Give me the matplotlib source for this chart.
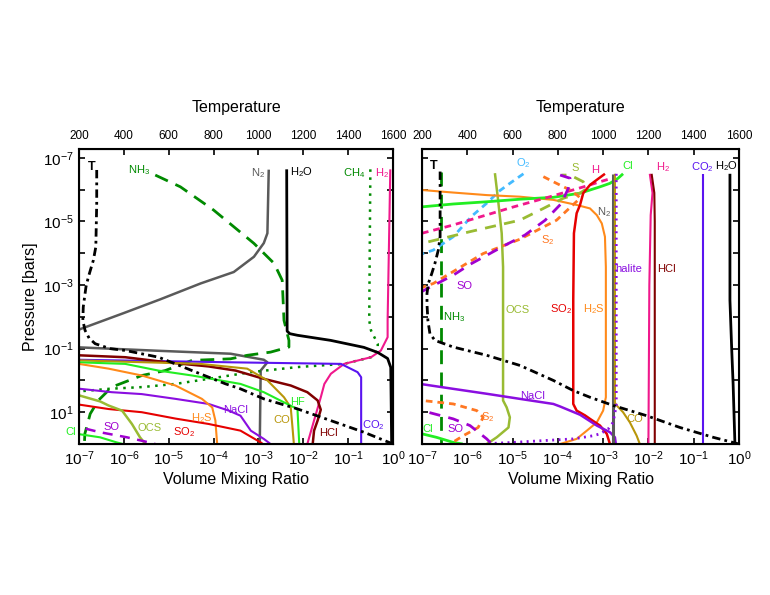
import numpy as np
import matplotlib
matplotlib.use('Agg')
import matplotlib.pyplot as plt
from matplotlib.ticker import NullLocator

plt.rcParams['font.family'] = ['Liberation Sans', 'DejaVu Sans']
plt.rcParams['mathtext.default'] = 'regular'

# ---- data: (log10 VMR, log10 p[bar]) pairs ----
# left panel
L_H2O = ([-2.37, -2.36, -2.30, -2.13, -1.39, -0.65, -0.34, -0.12, -0.05, -0.03],
         [-6.64, -1.55, -1.47, -1.42, -1.26, -1.04, -0.88, -0.69, -0.41, 2.0])
L_N2 = ([-2.77, -2.80, -2.88, -3.10, -3.55, -4.29, -5.19, -6.0, -7.0, -9.0, -7.0, -5.19, -3.62, -2.88, -2.80, -2.95, -2.97],
        [-6.63, -4.63, -4.32, -3.89, -3.41, -3.05, -2.55, -2.12, -1.6, -1.35, -1.04, -0.93, -0.84, -0.65, -0.57, -0.31, 2.0])
L_NH3 = ([-5.30, -4.74, -4.0, -3.10, -2.65, -2.47, -2.43, -2.32, -2.32, -2.73, -3.25, -3.62, -4.48, -5.08, -5.60, -6.27, -6.57, -6.75, -6.87, -6.88],
         [-6.46, -6.09, -5.36, -4.31, -3.68, -3.15, -1.89, -1.26, -1.05, -0.89, -0.79, -0.68, -0.63, -0.31, -0.155, 0.21, 0.63, 1.05, 1.68, 2.0])
L_CH4 = ([-0.505, -0.53, -0.49, -0.34, -0.34, -0.49, -1.09, -2.13, -3.17, -4.11, -4.85, -5.60, -6.34, -6.79, -7.5],
         [-6.64, -1.89, -1.57, -1.15, -0.94, -0.73, -0.52, -0.42, -0.26, -0.05, 0.11, 0.21, 0.265, 0.32, 0.4])
L_H2 = ([-0.06, -0.12, -0.12, -0.27, -0.49, -1.09, -1.385, -1.53, -1.61, -1.76, -1.91],
        [-6.64, -1.89, -1.36, -0.94, -0.73, -0.52, -0.21, 0.11, 0.53, 1.26, 2.0])
L_CO2 = ([-7.0, -3.62, -1.16, -0.79, -0.71, -0.71],
         [-0.65, -0.57, -0.52, -0.26, -0.10, 2.0])
L_HCl = ([-7.0, -5.97, -5.04, -4.11, -3.51, -2.88, -2.28, -1.91, -1.68, -1.61, -1.68, -1.76, -1.79],
         [-0.79, -0.73, -0.57, -0.44, -0.31, -0.05, 0.16, 0.37, 0.63, 0.92, 1.26, 1.58, 2.0])
L_CO = ([-7.0, -4.29, -3.25, -2.80, -2.43, -2.28, -2.24, -2.21],
        [-0.63, -0.52, -0.37, 0.0, 0.53, 0.85, 1.49, 2.0])
L_HF = ([-7.0, -5.97, -5.23, -4.48, -3.40, -2.88, -2.43, -2.13, -2.09],
        [-0.57, -0.52, -0.31, -0.155, 0.11, 0.37, 0.69, 0.90, 2.0])
L_NaCl = ([-7.0, -6.27, -5.60, -4.85, -4.11, -3.66, -3.40, -3.17, -2.88, -2.73],
          [0.26, 0.37, 0.43, 0.58, 0.74, 0.95, 1.11, 1.58, 1.84, 2.0])
L_H2S = ([-7.0, -6.34, -5.60, -4.85, -4.26, -4.03, -3.96, -3.92],
         [-0.52, -0.37, -0.155, 0.16, 0.58, 0.85, 1.26, 2.0])
L_SO2 = ([-7.0, -6.34, -5.60, -4.85, -4.11, -3.40, -2.95, -2.85],
         [0.76, 0.90, 1.0, 1.2, 1.37, 1.58, 1.95, 2.05])
L_OCS = ([-7.0, -6.53, -6.34, -6.04, -5.82, -5.64, -5.52],
         [0.47, 0.66, 0.79, 0.95, 1.37, 1.79, 2.0])
L_SO = ([-6.85, -6.53, -5.93, -5.41, -5.3], [1.52, 1.63, 1.79, 1.96, 2.0])
L_Cl = ([-7.0, -6.53, -6.16, -6.02], [1.69, 1.79, 1.95, 2.0])
L_T = [279, 279, 275, 264, 242, 231, 219, 217, 227, 245, 272, 339, 406, 555, 704, 853, 920, 1024, 1174, 1323, 1472, 1600]
L_Tp = [-6.62, -5.57, -4.20, -3.78, -3.26, -2.94, -2.31, -1.89, -1.574, -1.33, -1.155, -1.0, -0.943, -0.73, -0.31, 0.107,
        0.265, 0.58, 0.896, 1.265, 1.634, 2.0]

# right panel
R_H2O = ([-0.20, -0.20, -0.16, -0.13, -0.09], [-6.5, -2.52, -0.94, 0.11, 2.0])
R_CO2 = ([-0.79, -0.79], [-6.5, 2.0])
R_HCl = ([-1.93, -1.87, -1.86, -1.86], [-6.5, -5.9, -5.0, 2.0])
R_H2 = ([-1.97, -1.91, -1.95, -1.98, -2.0], [-6.5, -5.9, -5.2, -3.0, 2.0])
R_N2 = ([-2.78, -2.78], [-6.5, 2.0])
R_CO = ([-2.74, -2.74, -2.70, -2.56, -2.41, -2.26, -2.19], [-6.5, 0.7, 0.79, 1.0, 1.32, 1.74, 2.0])
R_halite = ([-2.71, -2.71, -2.78, -2.89, -3.07, -3.22, -3.66, -4.40, -4.99, -5.57],
            [-6.5, 0.79, 1.32, 1.53, 1.68, 1.74, 1.84, 1.90, 1.95, 1.99])
R_NH3 = ([-6.59, -6.59], [-6.57, 2.0])
R_OCS = ([-5.39, -5.32, -5.24, -5.21, -5.21, -5.13, -5.06, -5.09, -5.35, -5.57],
         [-6.52, -5.68, -4.63, -3.57, 0.63, 0.85, 1.16, 1.48, 1.79, 2.0])
R_O2 = ([-4.76, -5.06, -5.3, -5.55, -5.9, -6.31, -6.75, -7.0], [-6.5, -6.2, -5.95, -5.6, -5.17, -4.52, -4.10, -3.98])
R_H2S = ([-7.0, -6.31, -5.57, -4.84, -4.10, -3.585, -3.29, -3.14, -3.03, -2.96, -2.94, -2.94, -3.0, -3.14, -3.36, -3.585, -3.95],
         [-5.99, -5.91, -5.83, -5.78, -5.68, -5.52, -5.41, -5.20, -4.94, -4.52, -3.57, 0.53, 0.95, 1.32, 1.58, 1.84, 2.0])
R_SO2 = ([-2.96, -3.14, -3.29, -3.44, -3.51, -3.585, -3.645, -3.66, -3.66, -3.585, -3.40, -3.29, -3.07, -2.92, -2.85],
         [-6.50, -6.31, -6.15, -5.89, -5.52, -5.26, -4.63, -2.55, 0.74, 0.95, 1.10, 1.21, 1.42, 1.68, 2.0])
R_Cl = ([-2.56, -2.67, -2.85, -3.07, -3.29, -3.51, -4.10, -4.84, -5.57, -6.31, -7.0, -9.0, -7.0, -6.68, -6.31, -6.1],
        [-6.50, -6.36, -6.20, -6.09, -5.99, -5.89, -5.76, -5.70, -5.62, -5.55, -5.46, -2.0, 1.68, 1.79, 1.95, 2.0])
R_H = ([-7.0, -6.31, -5.94, -5.0, -4.17, -3.36, -3.07, -2.78], [-4.63, -4.89, -5.05, -5.45, -5.78, -6.12, -6.25, -6.37])
R_S = ([-6.86, -6.31, -5.94, -4.84, -4.32, -3.88, -3.5, -3.36, -3.44, -3.73, -3.92],
       [-4.36, -4.55, -4.68, -5.04, -5.41, -5.73, -5.9, -6.04, -6.25, -6.46, -6.46])
R_S2 = ([-4.32, -4.03, -3.73, -3.55, -3.51, -4.03, -4.84, -5.65, -6.75, -6.97, -9.0, -7.0, -6.31, -5.79, -5.65, -5.76, -6.09, -6.38],
        [-6.41, -6.2, -5.99, -5.8, -5.73, -5.04, -4.44, -3.99, -3.05, -2.94, -1.0, 0.63, 0.74, 0.95, 1.16, 1.48, 1.74, 2.0])
R_SO = ([-3.95, -3.73, -3.77, -3.92, -4.28, -4.73, -5.13, -5.94, -6.31, -7.0, -9.0, -7.0, -6.31, -5.94, -5.57, -5.46],
        [-6.46, -6.36, -6.04, -5.57, -5.04, -4.57, -4.28, -3.65, -3.31, -2.80, -1.0, 0.95, 1.21, 1.42, 1.84, 2.0])
R_NaCl = ([-7.04, -6.31, -5.57, -4.84, -4.10, -3.95, -3.51, -3.14, -2.85, -2.74, -2.72],
          [0.11, 0.265, 0.42, 0.58, 0.74, 0.82, 1.08, 1.42, 1.63, 1.79, 2.0])
R_T = [280, 280, 272, 257, 243, 228, 222, 222, 226, 235, 257, 338, 486, 633, 780, 868, 942, 1045, 1192, 1339, 1486, 1600]
R_Tp = [-6.57, -4.52, -4.10, -3.68, -3.36, -3.05, -2.73, -2.4, -1.89, -1.47, -1.26, -1.05, -0.79, -0.47, 0.0, 0.32,
        0.53, 0.79, 1.11, 1.48, 1.79, 2.0]

# ---- styles ----
C = dict(H2O='black', N2='#5a5a5a', NH3='#008a00', CH4='#008a00', H2='#f0188c', CO2='#5a14f0',
         HCl='#800000', CO='#b8960a', HF='#22ee22', Cl='#22ee22', NaCl='#8a0ee0', H2S='#ff8a1a',
         SO2='#e60000', OCS='#99bb33', S='#99bb33', SO='#a000d0', O2='#44bbff', S2='#ff7722',
         H='#f0188c', halite='#8a0ee0')
LONG = (5, 3)
MED = (4, 3)
SHORT = (2.4, 1.8)
DOT = (1, 2.2)
DASHDOT = (3, 1.5, 1, 1.5)


def curve(ax, d, color, lw=1.5, dashes=None, z=2):
    ln, = ax.plot(10.0 ** np.asarray(d[0]), 10.0 ** np.asarray(d[1]), color=color, lw=lw, zorder=z,
                  solid_capstyle='butt', dash_capstyle='butt')
    if dashes:
        ln.set_dashes(dashes)


def label(ax, txt, lx, lp, color, ha='center', size=8, **kw):
    ax.text(10.0 ** lx, 10.0 ** lp, txt, color=color, fontsize=size, ha=ha, va='center', **kw)


def setup(ax, ylabels):
    ax.set_xscale('log')
    ax.set_yscale('log')
    ax.set_xlim(1e-7, 1)
    ax.set_ylim(1e2, 10 ** -7.28)
    ax.set_xticks([10.0 ** k for k in range(-7, 1)])
    ax.set_xticklabels(['10$^{%d}$' % k for k in range(-7, 1)])
    ax.set_yticks([10.0 ** k for k in range(-7, 3)])
    if ylabels:
        ax.set_yticklabels(['10$^{%d}$' % k if k % 2 else '' for k in range(-7, 3)])
        ax.set_ylabel('Pressure [bars]', fontsize=11.5, labelpad=3)
    else:
        ax.set_yticklabels([])
    ax.xaxis.set_minor_locator(NullLocator())
    ax.yaxis.set_minor_locator(NullLocator())
    ax.tick_params(direction='in', length=4.5, width=1.2, right=True, top=False, labelsize=11, pad=4)
    ax.set_xlabel('Volume Mixing Ratio', fontsize=11.5, labelpad=3)
    for s in ax.spines.values():
        s.set_linewidth(1.5)
    tw = ax.twiny()
    tw.set_xlim(200, 1600)
    tw.set_xticks(range(200, 1601, 200))
    tw.tick_params(direction='in', length=4.5, width=1.2, labelsize=8.5, pad=5)
    tw.set_xlabel('Temperature', fontsize=11.5, labelpad=13)
    return tw


fig = plt.figure(figsize=(7.7, 5.95), dpi=100)
axL = fig.add_axes([79 / 770, 1 - 444 / 595, 314 / 770, 295 / 595])
axR = fig.add_axes([422 / 770, 1 - 444 / 595, 317 / 770, 295 / 595])

# ---- left panel ----
twL = setup(axL, True)
curve(axL, L_N2, C['N2'], lw=1.8)
curve(axL, L_NH3, C['NH3'], lw=2, dashes=LONG)
curve(axL, L_CH4, C['CH4'], lw=1.8, dashes=DOT)
curve(axL, L_H2, C['H2'])
curve(axL, L_CO2, C['CO2'])
curve(axL, L_HCl, C['HCl'], lw=1.8)
curve(axL, L_CO, C['CO'])
curve(axL, L_HF, C['HF'])
curve(axL, L_NaCl, C['NaCl'])
curve(axL, L_H2S, C['H2S'])
curve(axL, L_SO2, C['SO2'])
curve(axL, L_OCS, C['OCS'], lw=1.8)
curve(axL, L_SO, C['SO'], lw=1.8, dashes=MED)
curve(axL, L_Cl, C['Cl'])
curve(axL, L_H2O, C['H2O'], lw=2)
twL.plot(L_T, 10.0 ** np.asarray(L_Tp), color='black', lw=2, dashes=DASHDOT)

for txt, lx, lp, col in [('NH$_3$', -5.66, -6.62, C['NH3']), ('N$_2$', -3.0, -6.53, C['N2']),
                         ('H$_2$O', -2.03, -6.56, 'black'), ('CH$_4$', -0.86, -6.53, C['CH4']),
                         ('H$_2$', -0.24, -6.53, C['H2']), ('HF', -2.12, 0.67, C['HF']),
                         ('NaCl', -3.51, 0.92, C['NaCl']), ('H$_2$S', -4.27, 1.17, C['H2S']),
                         ('CO', -2.48, 1.26, C['CO']), ('HCl', -1.45, 1.64, C['HCl']),
                         ('CO$_2$', -0.445, 1.39, C['CO2']), ('SO$_2$', -4.65, 1.61, C['SO2']),
                         ('OCS', -5.43, 1.49, C['OCS']), ('SO', -6.28, 1.45, C['SO'])]:
    label(axL, txt, lx, lp, col)
label(axL, 'Cl', -7.18, 1.61, C['Cl'], clip_on=False)
label(axL, 'T', -6.72, -6.72, 'black', size=9, fontweight='bold')

# ---- right panel ----
twR = setup(axR, False)
curve(axR, R_NH3, C['NH3'], lw=2, dashes=LONG)
curve(axR, R_OCS, C['OCS'], lw=1.8)
curve(axR, R_O2, C['O2'], lw=2, dashes=SHORT)
curve(axR, R_H2S, C['H2S'])
curve(axR, R_Cl, C['Cl'], lw=2)
curve(axR, R_H, C['H'], lw=2, dashes=SHORT)
curve(axR, R_S, C['S'], lw=2, dashes=MED)
curve(axR, R_S2, C['S2'], lw=2, dashes=SHORT)
curve(axR, R_SO, C['SO'], lw=2, dashes=MED)
curve(axR, R_SO2, C['SO2'], lw=1.8)
curve(axR, R_NaCl, C['NaCl'], lw=1.8)
curve(axR, R_N2, C['N2'], lw=2.2)
curve(axR, R_CO, C['CO'], lw=1.5)
curve(axR, R_halite, C['halite'], lw=2, dashes=(0.7, 1.6))
curve(axR, R_H2, C['H2'])
curve(axR, R_HCl, C['HCl'])
curve(axR, R_CO2, C['CO2'])
curve(axR, R_H2O, C['H2O'], lw=2)
twR.plot(R_T, 10.0 ** np.asarray(R_Tp), color='black', lw=2, dashes=DASHDOT)

for txt, lx, lp, col in [('O$_2$', -4.77, -6.84, C['O2']), ('S', -3.62, -6.68, C['S']),
                         ('H', -3.18, -6.62, C['H']), ('Cl', -2.45, -6.75, C['Cl']),
                         ('H$_2$', -1.68, -6.72, C['H2']), ('CO$_2$', -0.82, -6.72, C['CO2']),
                         ('H$_2$O', -0.27, -6.75, 'black'), ('N$_2$', -2.98, -5.30, C['N2']),
                         ('S$_2$', -4.22, -4.41, C['S2']), ('SO', -6.07, -2.96, C['SO']),
                         ('HCl', -1.61, -3.50, C['HCl']), ('NH$_3$', -6.29, -2.0, C['NH3']),
                         ('OCS', -4.88, -2.2, C['OCS']), ('SO$_2$', -3.93, -2.24, C['SO2']),
                         ('H$_2$S', -3.20, -2.24, C['H2S']), ('NaCl', -4.55, 0.48, C['NaCl']),
                         ('S$_2$', -5.54, 1.14, C['S2']), ('SO', -6.25, 1.52, C['SO']),
                         ('Cl', -6.87, 1.52, C['Cl']), ('CO', -2.30, 1.20, C['CO'])]:
    label(axR, txt, lx, lp, col)
label(axR, 'halite', -2.74, -3.50, C['halite'], ha='left')
label(axR, 'T', -6.735, -6.75, 'black', size=9, fontweight='bold')

fig.savefig('out.png', dpi=100)
